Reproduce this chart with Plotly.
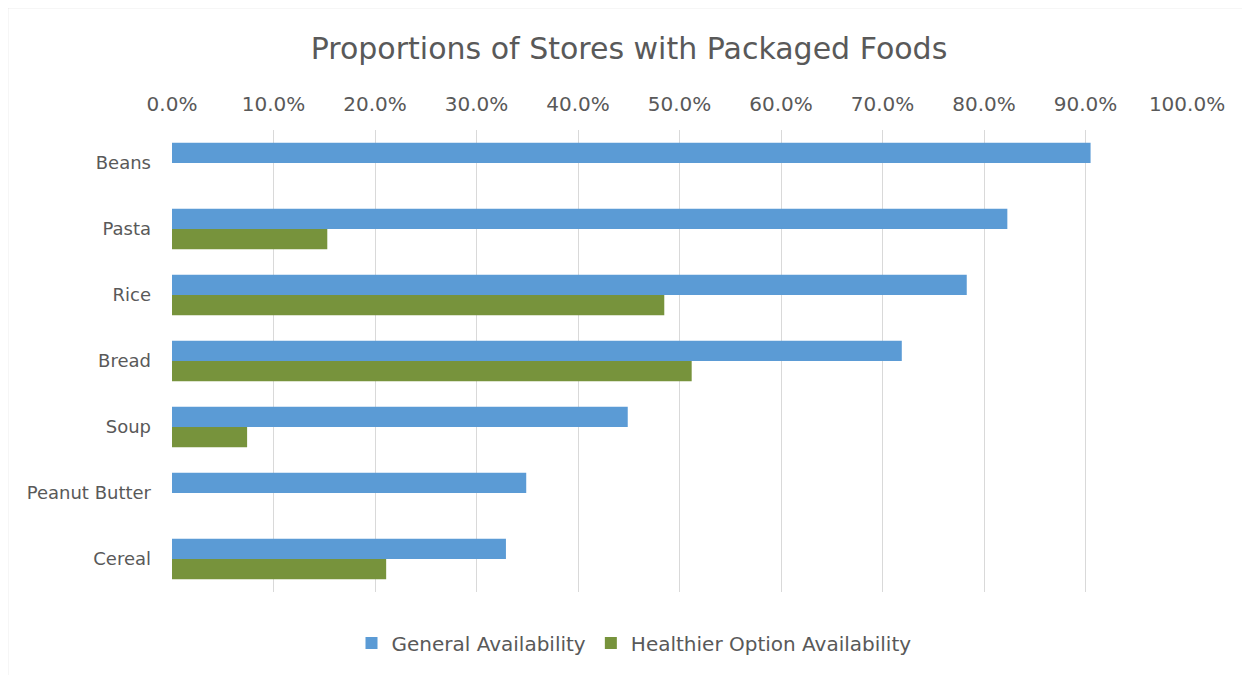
import plotly.graph_objects as go

categories = ["Beans", "Pasta", "Rice", "Bread", "Soup", "Peanut Butter", "Cereal"]
general = [0.905, 0.823, 0.783, 0.719, 0.449, 0.349, 0.329]
healthier = [0.0, 0.153, 0.485, 0.512, 0.074, 0.0, 0.211]
x_ticks = [i / 10 for i in range(11)]

FONT = "'DejaVu Sans', sans-serif"
GRAY = "#595959"

fig = go.Figure()
fig.add_trace(go.Bar(y=categories, x=general, orientation="h", name="General Availability",
                     marker=dict(color="#5B9BD5", line=dict(width=0))))
fig.add_trace(go.Bar(y=categories, x=healthier, orientation="h", name="Healthier Option Availability",
                     marker=dict(color="#77933C", line=dict(width=0))))

# page has an 8px body margin; work in page coordinates and shift
OFF = 8
W, H = 1250 - OFF, 675 - OFF
L, R, T, B = 172 - OFF, 1187 - OFF, 130 - OFF, 592 - OFF
pw, ph = R - L, B - T

def px(x):
    return (x - OFF - L) / pw

def py(y):
    return (B - (y - OFF)) / ph

fig.update_layout(
    width=W, height=H,
    margin=dict(l=L, r=W - R, t=T, b=H - B),
    paper_bgcolor="white", plot_bgcolor="white",
    barmode="group", bargap=0.39, bargroupgap=0,
    font=dict(family=FONT, color=GRAY, size=18),
    title=dict(text="Proportions of Stores with Packaged Foods", x=0.5, xanchor="center",
               y=1 - (48 - OFF) / H, yanchor="middle", font=dict(size=30, color=GRAY, family=FONT)),
    xaxis=dict(side="top", range=[0, 1], tickvals=x_ticks, tickformat=".1%",
               showgrid=True, gridcolor="#D9D9D9", gridwidth=1.3, zeroline=False, showline=False,
               ticks="", ticklabelstandoff=14, tickfont=dict(size=20, color=GRAY), fixedrange=True),
    yaxis=dict(autorange="reversed", showgrid=False, showline=False, zeroline=False, ticks="",
               ticklabelstandoff=20, tickfont=dict(size=18, color=GRAY)),
    legend=dict(orientation="h", x=px(634), xanchor="center", y=py(643), yanchor="middle",
                font=dict(size=20, color=GRAY), traceorder="normal",
                bgcolor="rgba(0,0,0,0)"),
    showlegend=True,
    shapes=[dict(type="rect", xref="paper", yref="paper",
                 x0=px(7.5), x1=px(1270), y0=py(700), y1=py(7.5),
                 line=dict(color="#D9D9D9", width=1.5), fillcolor="rgba(0,0,0,0)", layer="below")],
)

fig.write_html("out.html")
